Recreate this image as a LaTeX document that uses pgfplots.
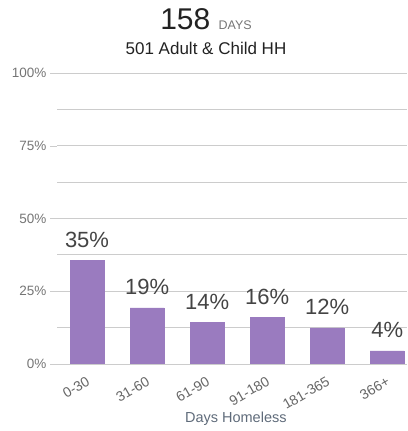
\documentclass[border=0pt]{standalone}
\usepackage{pgfplots}
\pgfplotsset{compat=1.18}
\usepackage{fontspec}
\setmainfont{Liberation Sans}
\definecolor{barpurple}{HTML}{9A7BBF}
\definecolor{gridgray}{HTML}{CCCCCC}
\definecolor{basegray}{HTML}{BBBBBB}
\definecolor{tickgray}{HTML}{757575}
\definecolor{xlabgray}{HTML}{666666}
\definecolor{labgray}{HTML}{444444}
\definecolor{titlegray}{HTML}{222222}
\definecolor{axlab}{HTML}{5F6B7A}

\begin{document}
\begin{tikzpicture}[x=1pt,y=1pt]
\useasboundingbox (0,0) rectangle (407,431);
\node[anchor=base, inner sep=0, text=titlegray] at (206,401)
  {\fontsize{30}{30}\selectfont 158 {\fontsize{12.5}{12}\selectfont\color{tickgray}DAYS}};
\node[anchor=base, inner sep=0, text=titlegray] at (206,376)
  {\fontsize{17}{17}\selectfont 501 Adult \& Child HH};
\begin{axis}[
    at={(57pt,67pt)}, anchor=south west,
    scale only axis,
    width=350pt, height=291pt,
    ybar, bar width=34pt,
    xmin=-0.5, xmax=5.33,
    ymin=0, ymax=100,
    axis line style={draw=none},
    xtick={0,1,2,3,4,5},
    xticklabels={0-30,31-60,61-90,91-180,181-365,366+},
    minor xtick={-0.5,0.5,1.5,2.5,3.5,4.5},
    major tick length=7pt, minor tick length=5pt,
    tick align=outside,
    xtick pos=bottom, ytick pos=left,
    xtick style={draw=none},
    every minor tick/.style={draw=basegray},
    ytick={0,25,50,75,100},
    yticklabels={0\%,25\%,50\%,75\%,100\%},
    ytick style={draw=gridgray},
    extra y ticks={12.5,37.5,62.5,87.5},
    extra y tick labels={},
    extra y tick style={major tick length=0pt, grid=major},
    ymajorgrids=true,
    grid style={gridgray, line width=0.8pt},
    tick label style={font=\fontsize{13.5}{13.5}\selectfont, text=tickgray},
    xticklabel style={rotate=30, anchor=north east,
      font=\fontsize{14}{14}\selectfont, text=xlabgray},
    xlabel={Days Homeless},
    xlabel style={at={(axis description cs:0.511,0)}, anchor=base, yshift=-58pt,
      font=\fontsize{14.5}{14.5}\selectfont, text=axlab},
    nodes near coords,
    point meta=explicit symbolic,
    nodes near coords style={font=\fontsize{22}{22}\selectfont, text=labgray,
      anchor=base, inner sep=0pt, yshift=13pt},
]
\addplot[fill=barpurple, draw=barpurple] coordinates {
    (0,35.6) [35\%]
    (1,19.3) [19\%]
    (2,14.4) [14\%]
    (3,16.0) [16\%]
    (4,12.4) [12\%]
    (5,4.5) [4\%]
};
\draw[basegray, line width=0.8pt] (rel axis cs:0,0) -- (rel axis cs:1,0);
\end{axis}
\end{tikzpicture}
\end{document}
